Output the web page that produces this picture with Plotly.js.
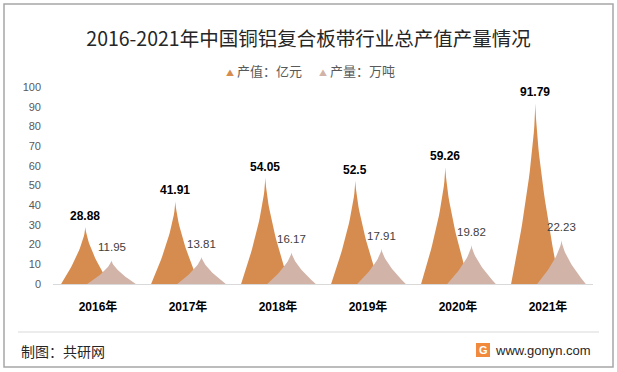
<!DOCTYPE html>
<html>
<head>
<meta charset="utf-8">
<script src="https://cdn.plot.ly/plotly-3.0.1.min.js"></script>
<style>
html,body{margin:0;padding:0;background:#fff;}
#chart{width:617px;height:372px;}
</style>
</head>
<body>
<div id="chart"></div>
<script>
// ---- data ----
var categories = ['2016年','2017年','2018年','2019年','2020年','2021年'];
var outputValue = [28.88, 41.91, 54.05, 52.5, 59.26, 91.79];   // 产值：亿元
var outputVolume = [11.95, 13.81, 16.17, 17.91, 19.82, 22.23]; // 产量：万吨
var seriesNames = ['产值：亿元', '产量：万吨'];

// ---- style ----
var W = 617, H = 372;
var L = 53, R = 593, T = 87, B = 284;
var colValue = '#D68C4E', colVolume = '#D1B3A8';
var halfW = 0.27, offValue = -0.14, offVolume = 0.15;

function px(x){ return (x - L) / (R - L); }
function py(y){ return (B - y) / (B - T); }

function spikes(vals, off){
  var xs = [], ys = [], N = 24;
  vals.forEach(function(v, i){
    var c = i + off, k, t;
    for (k = 0; k <= N; k++){ t = k / N; xs.push(c - halfW * Math.pow(1 - t, 1.5)); ys.push(v * t); }
    for (k = N - 1; k >= 0; k--){ t = k / N; xs.push(c + halfW * Math.pow(1 - t, 1.5)); ys.push(v * t); }
    xs.push(null); ys.push(null);
  });
  return {xs: xs, ys: ys};
}

var s1 = spikes(outputValue, offValue), s2 = spikes(outputVolume, offVolume);
var idx = categories.map(function(_, i){ return i; });

var traces = [
  {x: s1.xs, y: s1.ys, type: 'scatter', mode: 'lines', fill: 'toself', fillcolor: colValue,
   line: {width: 0, color: colValue}, name: seriesNames[0], showlegend: false, hoverinfo: 'skip'},
  {x: s2.xs, y: s2.ys, type: 'scatter', mode: 'lines', fill: 'toself', fillcolor: colVolume,
   line: {width: 0, color: colVolume}, name: seriesNames[1], showlegend: false, hoverinfo: 'skip'}
];

var annotations = [];
outputValue.forEach(function(v, i){
  annotations.push({x: i + offValue, y: v, xref: 'x', yref: 'y', text: '<b>' + v + '</b>', showarrow: false,
    yanchor: 'middle', yshift: 11, font: {family: 'Liberation Sans, Arial, sans-serif', size: 12, color: '#000'}});
});
outputVolume.forEach(function(v, i){
  annotations.push({x: i + offVolume, y: v, xref: 'x', yref: 'y', text: String(v), showarrow: false,
    yanchor: 'middle', yshift: 13, font: {family: 'Liberation Sans, Arial, sans-serif', size: 11.5, color: '#404040'}});
});
// legend
var legFont = {family: 'Noto Sans CJK SC, sans-serif', size: 13, color: '#595959'};
annotations.push({xref: 'paper', yref: 'paper', x: px(224), y: py(70.5), xanchor: 'left', yanchor: 'middle', showarrow: false,
  text: '<span style="color:' + colValue + ';font-size:8px">▲</span> ' + seriesNames[0], font: legFont});
annotations.push({xref: 'paper', yref: 'paper', x: px(317), y: py(70.5), xanchor: 'left', yanchor: 'middle', showarrow: false,
  text: '<span style="color:' + colVolume + ';font-size:8px">▲</span> ' + seriesNames[1], font: legFont});
// footer
annotations.push({xref: 'paper', yref: 'paper', x: px(19), y: py(350.5), xanchor: 'left', yanchor: 'middle', showarrow: false,
  text: '制图：共研网', font: {family: 'Noto Sans CJK SC, sans-serif', size: 14, color: '#262626'}});
annotations.push({xref: 'paper', yref: 'paper', x: px(593), y: py(350), xanchor: 'right', yanchor: 'middle', showarrow: false,
  text: 'www.gonyn.com', font: {family: 'Liberation Sans, Arial, sans-serif', size: 13, color: '#262626'}});
annotations.push({xref: 'paper', yref: 'paper', x: px(483), y: py(350), xanchor: 'center', yanchor: 'middle', showarrow: false,
  text: '<b>G</b>', font: {family: 'Liberation Sans, Arial, sans-serif', size: 11, color: '#fff'}});

var shapes = [
  {type: 'rect', xref: 'paper', yref: 'paper', x0: px(4), x1: px(613), y0: py(4), y1: py(367),
   line: {color: '#A6A6A6', width: 1.5}, fillcolor: 'rgba(0,0,0,0)', layer: 'below'},
  {type: 'line', xref: 'paper', yref: 'paper', x0: px(18), x1: px(599), y0: py(332), y1: py(332),
   line: {color: '#D9D9D9', width: 1}},
  {type: 'rect', xref: 'paper', yref: 'paper', x0: px(476), x1: px(490), y0: py(343), y1: py(357),
   line: {width: 0}, fillcolor: '#F28A3E', layer: 'below'}
];

var layout = {
  width: W, height: H,
  margin: {l: L, r: W - R, t: T, b: H - B, pad: 0},
  paper_bgcolor: '#fff', plot_bgcolor: '#fff',
  showlegend: false,
  title: {text: '2016-2021年中国铜铝复合板带行业总产值产量情况', x: 0.5, xanchor: 'center', xref: 'container',
    y: 1 - 39.5 / H, yanchor: 'middle', yref: 'container',
    font: {family: 'Noto Sans CJK SC, sans-serif', size: 19.5, color: '#262626'}},
  xaxis: {range: [-0.5, 5.5], tickvals: idx, ticktext: categories, showgrid: false, zeroline: false,
    showline: true, linecolor: '#D9D9D9', linewidth: 1, ticks: '', ticklabelstandoff: 12,
    tickfont: {family: 'Liberation Sans, Noto Sans CJK SC, sans-serif', size: 12, color: '#000', weight: 'bold'}, fixedrange: true},
  yaxis: {range: [0, 100], dtick: 10, showgrid: false, zeroline: false, showline: false, ticks: '',
    ticklabelstandoff: 11,
    tickfont: {family: 'Liberation Sans, Arial, sans-serif', size: 11, color: '#595959'}, fixedrange: true},
  annotations: annotations,
  shapes: shapes
};

Plotly.newPlot('chart', traces, layout, {staticPlot: true, displayModeBar: false});
</script>
</body>
</html>
